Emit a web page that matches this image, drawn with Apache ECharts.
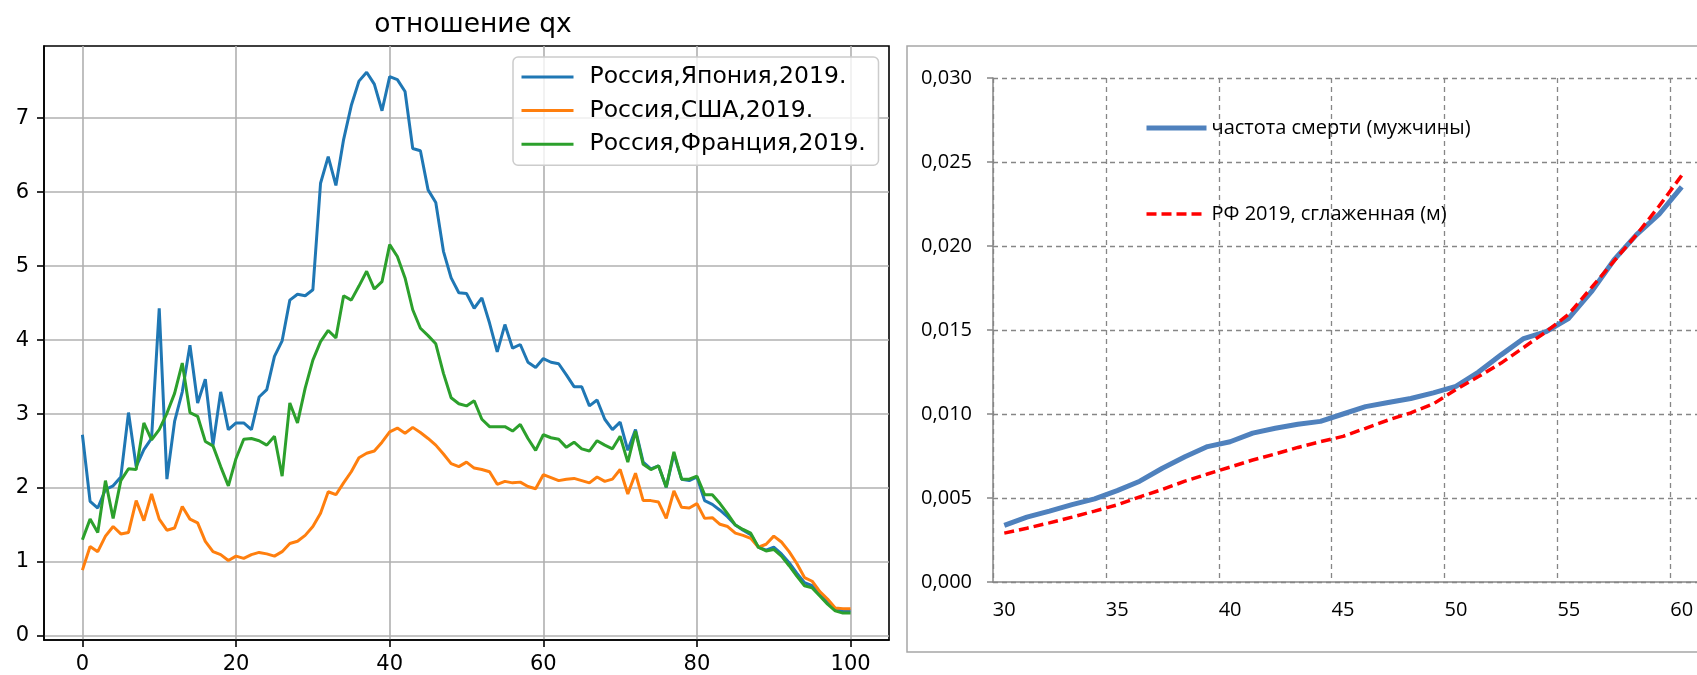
<!DOCTYPE html>
<html>
<head>
<meta charset="utf-8">
<script src="https://cdn.jsdelivr.net/npm/echarts@6/dist/echarts.min.js"></script>
<style>
html, body { margin: 0; padding: 0; background: #fff; overflow: hidden; }
#chart { width: 1720px; height: 675px; }
</style>
</head>
<body>
<div id="chart"></div>
<script>
// left panel: ratio of qx, index = age 0..100
const japan = [2.72,1.82,1.73,1.98,2.03,2.15,3.02,2.29,2.52,2.67, 4.43,2.12,2.9,3.3,3.93,3.15,3.47,2.58,3.3,2.79,
  2.88,2.88,2.79,3.23,3.33,3.78,3.99,4.54,4.62,4.6, 4.68,6.12,6.48,6.09,6.71,7.17,7.5,7.62,7.46,7.1,
  7.56,7.52,7.36,6.59,6.56,6.03,5.86,5.2,4.84,4.64, 4.63,4.43,4.57,4.23,3.84,4.21,3.89,3.94,3.7,3.63,
  3.75,3.7,3.68,3.53,3.37,3.37,3.11,3.19,2.93,2.79, 2.89,2.51,2.79,2.35,2.26,2.3,2.01,2.46,2.12,2.1,
  2.15,1.83,1.78,1.7,1.61,1.5,1.43,1.37,1.2,1.16, 1.2,1.11,0.99,0.85,0.72,0.68,0.57,0.47,0.36,0.34,
  0.34]
const usa = [0.89,1.21,1.14,1.35,1.48,1.38,1.4,1.83,1.56,1.92, 1.58,1.43,1.46,1.75,1.58,1.53,1.28,1.14,1.1,1.02,
  1.08,1.05,1.1,1.13,1.11,1.08,1.14,1.25,1.28,1.36, 1.48,1.66,1.95,1.91,2.07,2.22,2.41,2.47,2.5,2.62,
  2.76,2.81,2.74,2.82,2.75,2.67,2.58,2.46,2.33,2.29, 2.35,2.27,2.25,2.22,2.05,2.09,2.07,2.08,2.02,1.99,
  2.18,2.14,2.1,2.12,2.13,2.1,2.07,2.15,2.09,2.12, 2.25,1.92,2.2,1.83,1.83,1.81,1.59,1.96,1.74,1.73,
  1.79,1.59,1.6,1.51,1.48,1.39,1.36,1.32,1.2,1.24, 1.35,1.27,1.14,0.98,0.79,0.74,0.6,0.5,0.38,0.37,
  0.37]
const france = [1.3,1.58,1.4,2.1,1.59,2.1,2.26,2.25,2.88,2.65, 2.79,3.01,3.28,3.69,3.02,2.97,2.63,2.57,2.29,2.03,
  2.4,2.66,2.67,2.64,2.58,2.7,2.16,3.15,2.88,3.35, 3.73,3.98,4.13,4.03,4.6,4.54,4.73,4.93,4.69,4.79,
  5.29,5.13,4.84,4.41,4.16,4.06,3.95,3.55,3.22,3.14, 3.11,3.18,2.93,2.83,2.83,2.83,2.77,2.86,2.67,2.51,
  2.72,2.68,2.66,2.55,2.62,2.53,2.5,2.64,2.58,2.53, 2.7,2.35,2.77,2.32,2.25,2.3,2.01,2.49,2.12,2.12,
  2.16,1.91,1.91,1.79,1.65,1.5,1.44,1.39,1.2,1.15, 1.17,1.08,0.95,0.81,0.68,0.65,0.54,0.43,0.34,0.31,
  0.31]
const leftXTicks = [0, 20, 40, 60, 80, 100]
const leftYTicks = [0, 1, 2, 3, 4, 5, 6, 7]

// right panel: death rate, men, ages 30..60 (the axis runs on past the cropped right edge)
const ages = ['30','31','32','33','34','35','36','37','38','39','40','41','42','43','44','45',
  '46','47','48','49','50','51','52','53','54','55','56','57','58','59','60','61']
const deathRate = [0.00337,0.00386,0.00422,0.00461,0.00495,0.00544,0.0060,0.00677,0.00745,0.00806,
  0.00835,0.00886,0.00915,0.00939,0.00956,0.0100,0.01044,0.01068,0.01092,0.01126,
  0.01165,0.0125,0.01352,0.01449,0.0149,0.0157,0.01728,0.01917,0.02068,0.02189,0.02352]
const smoothed = [0.00291,0.0032,0.00352,0.00386,0.00422,0.00459,0.00507,0.00551,0.0060,0.00643,
  0.00684,0.00726,0.00762,0.00801,0.00835,0.00867,0.00915,0.00964,0.01007,0.0106,
  0.01146,0.01223,0.01303,0.01396,0.0149,0.01595,0.01752,0.0191,0.02068,0.02238,0.0242]

const names = ['Россия,Япония,2019.', 'Россия,США,2019.', 'Россия,Франция,2019.']
const names2 = ['частота смерти (мужчины)', 'РФ 2019, сглаженная (м)']

const chart = echarts.init(document.getElementById('chart'))

const mplAxis = {
  axisLine: { show: true, onZero: false, lineStyle: { color: '#000', width: 1.6 } },
  splitLine: { show: true, lineStyle: { color: '#b0b0b0', width: 1.6 } }
}
const mplLabel = { fontFamily: 'DejaVu Sans', fontSize: 21, color: '#000' }

const leftLine = (name, data, color) => ({
  name: name,
  type: 'line',
  xAxisIndex: 0,
  yAxisIndex: 0,
  data: data.map((v, i) => [i, v]),
  symbol: 'none',
  lineStyle: { width: 3, color: color },
  itemStyle: { color: color }
})

chart.setOption({
  animation: false,
  textStyle: { fontFamily: 'DejaVu Sans' },
  title: {
    text: 'отношение qx',
    left: 468,
    textAlign: 'center',
    top: 7,
    textStyle: { fontFamily: 'DejaVu Sans', fontSize: 26.5, fontWeight: 'normal', color: '#000' }
  },
  grid: [
    { left: 44, top: 46, width: 845, height: 595, show: true, borderColor: '#000', borderWidth: 1.6 },
    { left: 993, top: 78, width: 722.6, height: 504 }
  ],
  legend: [
    {
      data: names,
      orient: 'vertical',
      left: 513,
      top: 57,
      padding: [7, 0, 8, 7],
      itemWidth: 52,
      itemHeight: 14,
      itemGap: 7.6,
      itemStyle: { opacity: 0 },
      lineStyle: { width: 3 },
      backgroundColor: 'rgba(255,255,255,0.8)',
      borderColor: '#cccccc',
      borderWidth: 1.5,
      borderRadius: 5,
      textStyle: { fontFamily: 'DejaVu Sans', fontSize: 23.5, lineHeight: 26, color: '#000', padding: [0, 0, 0, 11], width: 289 }
    },
    {
      data: [
        { name: names2[0], lineStyle: { width: 5 } },
        { name: names2[1], lineStyle: { width: 3.5 } }
      ],
      orient: 'vertical',
      left: 1144,
      top: 118,
      padding: 0,
      itemWidth: 60,
      itemHeight: 20,
      itemGap: 66,
      itemStyle: { opacity: 0 },
      textStyle: { fontFamily: 'Open Sans', fontSize: 20, lineHeight: 20, color: '#000' }
    }
  ],
  xAxis: [
    Object.assign({
      type: 'value',
      gridIndex: 0,
      min: -5,
      max: 105,
      splitNumber: 5,
      minInterval: 20,
      maxInterval: 20,
      axisTick: { show: true, length: 7, customValues: leftXTicks, lineStyle: { color: '#000', width: 1.6 } },
      axisLabel: Object.assign({ margin: 14, customValues: leftXTicks }, mplLabel)
    }, mplAxis),
    {
      type: 'category',
      gridIndex: 1,
      data: ages,
      boundaryGap: true,
      axisLine: { lineStyle: { color: '#868686', width: 1.5 } },
      axisTick: { interval: 4, length: 6, lineStyle: { color: '#868686', width: 1.5 } },
      axisLabel: { interval: 4, margin: 18, fontFamily: 'Open Sans', fontSize: 20, color: '#000' },
      splitLine: { show: true, interval: 4, lineStyle: { color: '#868686', width: 1.3, type: [5, 4] } }
    }
  ],
  yAxis: [
    Object.assign({
      type: 'value',
      gridIndex: 0,
      min: -0.054,
      max: 7.975,
      splitNumber: 8,
      minInterval: 1,
      maxInterval: 1,
      axisTick: { show: true, length: 7, customValues: leftYTicks, lineStyle: { color: '#000', width: 1.6 } },
      axisLabel: Object.assign({ margin: 15, customValues: leftYTicks }, mplLabel)
    }, mplAxis),
    {
      type: 'value',
      gridIndex: 1,
      min: 0,
      max: 0.03,
      interval: 0.005,
      axisLine: { show: true, lineStyle: { color: '#868686', width: 1.5 } },
      axisTick: { show: true, length: 6, lineStyle: { color: '#868686', width: 1.5 } },
      axisLabel: {
        margin: 21,
        fontFamily: 'Open Sans',
        fontSize: 20,
        color: '#000',
        formatter: v => v.toFixed(3).replace('.', ',')
      },
      splitLine: { show: true, lineStyle: { color: '#868686', width: 1.3, type: [5, 4] } }
    }
  ],
  graphic: [
    {
      type: 'rect',
      shape: { x: 907, y: 46, width: 900, height: 606 },
      style: { fill: null, stroke: '#a6a6a6', lineWidth: 1.5 },
      silent: true
    }
  ],
  series: [
    leftLine(names[0], japan, '#1f77b4'),
    leftLine(names[1], usa, '#ff7f0e'),
    leftLine(names[2], france, '#2ca02c'),
    {
      name: names2[0],
      type: 'line',
      xAxisIndex: 1,
      yAxisIndex: 1,
      data: deathRate,
      symbol: 'none',
      lineStyle: { width: 5, color: '#4f81bd' },
      itemStyle: { color: '#4f81bd' }
    },
    {
      name: names2[1],
      type: 'line',
      xAxisIndex: 1,
      yAxisIndex: 1,
      data: smoothed,
      symbol: 'none',
      lineStyle: { width: 3.5, color: '#ff0000', type: [10, 5] },
      itemStyle: { color: '#ff0000' }
    }
  ]
})
</script>
</body>
</html>
